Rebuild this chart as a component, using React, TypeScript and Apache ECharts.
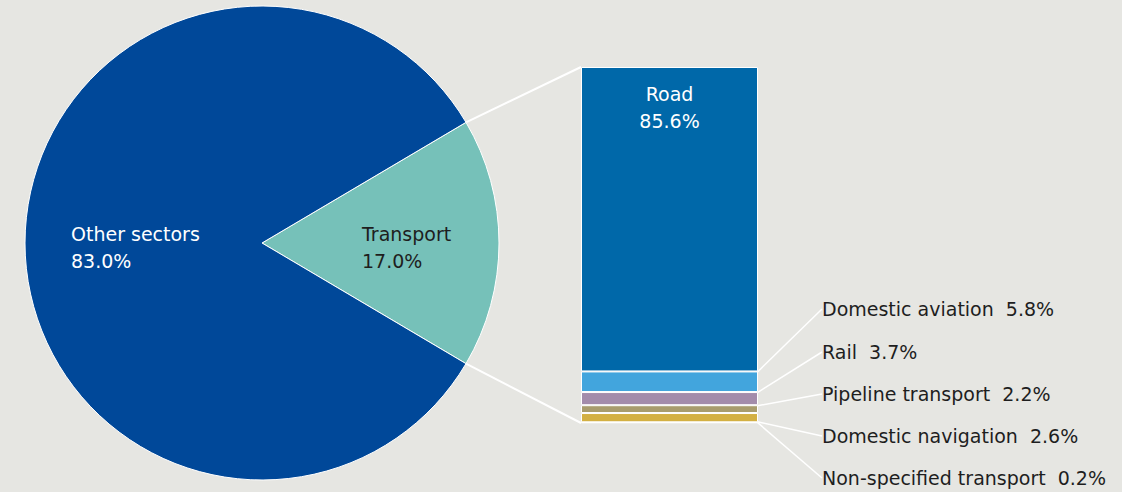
import React, { useEffect, useRef } from "react";
import * as echarts from "echarts";

const pieNames = ["Transport", "Other sectors"];
const pieValues = [17.0, 83.0];
const barNames = ["Road", "Domestic aviation", "Rail", "Pipeline transport", "Domestic navigation", "Non-specified transport"];
const barValues = [85.6, 5.8, 3.7, 2.2, 2.6, 0.2];

const pieColors = ["#76c1b9", "#004899"];
const barColors = ["#0068a9", "#42a5dd", "#a38cab", "#a89c6d", "#d3b043", "#9a9a9a"];

const FONT = "DejaVu Sans";
const FS = 19;
const W = 1122, H = 492;
const PIE_C = [262, 243];
const PIE_R = 237;
const GRID = { left: 581, top: 67, width: 177, height: 356 };
const LABEL_X = 822;
const LABEL_Y = [309, 352, 394, 436, 478];

export default function App() {
  const ref = useRef<HTMLDivElement>(null);
  useEffect(() => {
    document.body.style.margin = "0";
    const chart = echarts.init(ref.current!, null, { renderer: "svg" });
    const total = pieValues.reduce((a, b) => a + b, 0);
    const half = (pieValues[0] / total) * 180; // half-angle of transport slice
    const rad = (half * Math.PI) / 180;
    const pTop = [PIE_C[0] + PIE_R * Math.cos(rad), PIE_C[1] - PIE_R * Math.sin(rad)];
    const pBot = [PIE_C[0] + PIE_R * Math.cos(rad), PIE_C[1] + PIE_R * Math.sin(rad)];
    const barSum = barValues.reduce((a, b) => a + b, 0);

    const barSeries: any[] = barNames.map((n, i) => ({
      type: "bar",
      name: n,
      stack: "t",
      data: [barValues[i]],
      barWidth: GRID.width,
      itemStyle: { color: barColors[i], borderColor: "#ffffff", borderWidth: 1 },
      label:
        i === 0
          ? {
              show: true,
              position: "insideTop",
              distance: 13,
              color: "#ffffff",
              fontFamily: FONT,
              fontSize: FS,
              lineHeight: 27,
              formatter: (p: any) => `${p.seriesName}\n${p.value.toFixed(1)}%`,
            }
          : {
              show: true,
              position: "right",
              color: "#1e1e1e",
              fontFamily: FONT,
              fontSize: FS,
              formatter: (p: any) => `${p.seriesName}  ${p.value.toFixed(1)}%`,
            },
      labelLine: i === 0 ? undefined : { show: true, lineStyle: { color: "#ffffff", width: 1.5 } },
      labelLayout:
        i === 0
          ? undefined
          : () => ({ x: LABEL_X, y: LABEL_Y[i - 1], align: "left", verticalAlign: "middle" }),
    }));

    chart.setOption({
      animation: false,
      backgroundColor: "#e6e6e2",
      grid: { left: GRID.left, top: GRID.top, width: GRID.width, height: GRID.height },
      xAxis: { type: "category", data: ["Transport"], show: false },
      yAxis: { type: "value", min: 0, max: barSum, inverse: true, show: false },
      series: [
        {
          type: "pie",
          center: PIE_C,
          radius: PIE_R,
          startAngle: half,
          clockwise: true,
          data: pieNames.map((n, i) => ({
            name: n,
            value: pieValues[i],
            itemStyle: { color: pieColors[i] },
            label: { color: i === 0 ? "#1e1e1e" : "#ffffff" },
          })),
          itemStyle: { borderColor: "#ffffff", borderWidth: 1 },
          label: {
            show: true,
            position: "inside",
            fontFamily: FONT,
            fontSize: FS,
            lineHeight: 27,
            align: "left",
            formatter: (p: any) => `${p.name}\n${p.value.toFixed(1)}%`,
          },
          labelLayout: (p: any) =>
            p.dataIndex === 0
              ? { x: 362, y: 247, align: "left", verticalAlign: "middle" }
              : { x: 71, y: 247, align: "left", verticalAlign: "middle" },
          labelLine: { show: false },
          emphasis: { disabled: true },
        } as any,
        ...barSeries,
      ],
      graphic: [
        {
          type: "line",
          shape: { x1: pTop[0], y1: pTop[1], x2: GRID.left, y2: GRID.top },
          style: { stroke: "#ffffff", lineWidth: 2 },
        },
        {
          type: "line",
          shape: { x1: pBot[0], y1: pBot[1], x2: GRID.left, y2: GRID.top + GRID.height },
          style: { stroke: "#ffffff", lineWidth: 2 },
        },
      ],
    });
    return () => chart.dispose();
  }, []);
  return <div ref={ref} style={{ width: W, height: H }} />;
}
